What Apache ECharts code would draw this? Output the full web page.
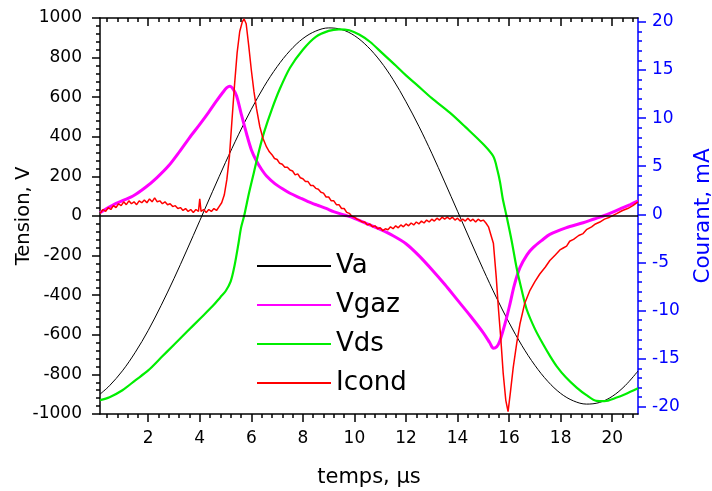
<!DOCTYPE html>
<html>
<head>
<meta charset="utf-8">
<script src="https://cdn.jsdelivr.net/npm/echarts@6/dist/echarts.min.js"></script>
<style>
html,body{margin:0;padding:0;background:#fff;}
#chart{width:712px;height:491px;}
</style>
</head>
<body>
<div id="chart"></div>
<script>
// ---- data ----
var xMajorTicks = [2,4,6,8,10,12,14,16,18,20];
var xMinorTicks = [0.4,0.8,1.2,1.6,2.4,2.8,3.2,3.6,4.4,4.8,5.2,5.6,6.4,6.8,7.2,7.6,8.4,8.8,9.2,9.6,10.4,10.8,11.2,11.6,12.4,12.8,13.2,13.6,14.4,14.8,15.2,15.6,16.4,16.8,17.2,17.6,18.4,18.8,19.2,19.6,20.4,20.8];
var rightMajorTicks = [-20,-15,-10,-5,0,5,10,15,20];
var rightMinorTicks = [-19,-18,-17,-16,-14,-13,-12,-11,-9,-8,-7,-6,-4,-3,-2,-1,1,2,3,4,6,7,8,9,11,12,13,14,16,17,18,19];

var vaTime = [0.13,0.5,1,1.5,2,2.5,3,3.5,4,4.5,5,5.5,6,6.5,7,7.5,8,8.5,9,9.5,10,10.5,11,11.5,12,12.5,13,13.5,14,14.5,15,15.5,16,16.5,17,17.5,18,18.5,19,19.5,20,20.5,21];
var vaValues = [-900,-857,-782,-688,-578,-452,-316,-172,-24,125,271,410,539,655,754,835,896,934,950,942,911,857,783,689,577,453,317,172,24,-125,-271,-410,-539,-655,-754,-835,-896,-934,-950,-942,-911,-857,-783];

var vgazTime = [0.13,0.7,1.41,1.9,2.33,2.8,3.23,3.6,4.0,4.35,4.65,4.9,5.05,5.17,5.3,5.43,5.6,5.82,6.0,6.2,6.4,6.59,6.9,7.24,7.5,7.88,8.2,8.53,8.9,9.19,9.6,9.95,10.5,11.0,11.5,12.0,12.5,13.0,13.5,14.0,14.5,15.0,15.25,15.39,15.52,15.64,15.85,16.03,16.2,16.42,16.7,16.93,17.3,17.58,18.2,18.87,19.3,19.65,20.0,20.42,20.7,21.0];
var vgazValues = [17,60,101,145,193,255,328,395,463,525,581,625,648,655,640,606,520,413,335,278,235,202,165,135,115,92,73,56,38,22,5,-9,-40,-68,-100,-140,-200,-270,-345,-425,-505,-590,-640,-668,-660,-631,-540,-446,-350,-261,-195,-160,-120,-93,-60,-34,-15,0,18,42,58,76];

var vdsTime = [0.13,0.5,1.0,1.5,2.0,2.5,3.0,3.5,4.0,4.5,4.8,5.0,5.2,5.35,5.5,5.6,5.72,5.9,6.1,6.3,6.5,6.8,7.1,7.5,8.0,8.5,9.0,9.4,9.8,10.2,10.6,11.1,11.6,12.0,12.4,13.0,13.7,14.3,15.0,15.39,15.55,15.65,15.75,15.9,16.1,16.29,16.5,16.68,17.0,17.32,17.6,17.84,18.2,18.62,19.0,19.39,19.7,20.17,20.5,21.0];
var vdsValues = [-930,-915,-880,-830,-780,-715,-650,-585,-520,-455,-410,-380,-330,-250,-140,-60,0,110,220,330,425,540,640,749,840,905,935,943,938,915,880,820,760,710,665,595,522,450,362,300,230,170,90,0,-126,-261,-380,-471,-570,-648,-710,-758,-815,-867,-905,-934,-935,-917,-900,-870];

var icondTime = [0.13,0.25,0.35,0.45,0.55,0.65,0.75,0.85,0.95,1.05,1.15,1.25,1.35,1.45,1.55,1.65,1.75,1.85,1.95,2.05,2.15,2.25,2.35,2.45,2.55,2.65,2.75,2.85,2.95,3.05,3.15,3.25,3.35,3.45,3.55,3.65,3.75,3.85,3.95,4.0,4.05,4.15,4.25,4.35,4.45,4.55,4.65,4.75,4.85,4.95,5.05,5.15,5.25,5.35,5.45,5.55,5.65,5.72,5.8,5.9,6.0,6.1,6.2,6.33,6.45,6.59,6.7,6.8,6.9,7.0,7.1,7.2,7.3,7.4,7.5,7.6,7.7,7.8,7.9,8.0,8.1,8.2,8.3,8.4,8.5,8.6,8.7,8.8,8.9,9.0,9.1,9.2,9.3,9.4,9.5,9.6,9.7,9.8,9.9,10.0,10.1,10.2,10.3,10.4,10.5,10.6,10.7,10.8,10.9,11.0,11.1,11.2,11.3,11.4,11.5,11.6,11.7,11.8,11.9,12.0,12.1,12.2,12.3,12.4,12.5,12.6,12.7,12.8,12.9,13.0,13.1,13.2,13.3,13.4,13.5,13.6,13.7,13.8,13.9,14.0,14.1,14.2,14.3,14.4,14.5,14.6,14.7,14.8,14.9,15.0,15.1,15.2,15.3,15.39,15.5,15.58,15.68,15.77,15.87,15.96,16.05,16.16,16.3,16.42,16.6,16.81,17.0,17.19,17.4,17.58,17.8,17.97,18.1,18.23,18.35,18.5,18.7,18.87,19.0,19.2,19.35,19.52,19.7,19.9,20.17,20.4,20.6,20.8,21.0];
var icondValues = [0.1,0.5,0.3,0.7,0.5,0.9,0.7,1.1,0.9,1.3,1.0,1.4,1.1,1.3,1.0,1.4,1.2,1.5,1.2,1.6,1.3,1.7,1.3,1.4,1.1,1.3,1.0,1.1,0.8,0.9,0.6,0.7,0.4,0.6,0.3,0.5,0.2,0.5,0.3,1.6,0.3,0.5,0.2,0.5,0.3,0.6,0.4,0.8,1.2,2.0,3.6,6.0,9.8,13.5,16.8,19.0,20.0,20.3,19.8,17.5,15.0,12.8,11.0,9.1,7.9,7.0,6.5,6.2,5.8,5.7,5.3,5.2,4.9,4.9,4.6,4.5,4.1,4.2,3.8,3.7,3.4,3.4,3.0,3.0,2.7,2.6,2.3,2.2,1.8,1.8,1.4,1.4,1.0,1.0,0.6,0.6,0.2,0.1,-0.2,-0.3,-0.5,-0.6,-0.8,-0.8,-1.1,-1.0,-1.3,-1.2,-1.5,-1.4,-1.7,-1.5,-1.6,-1.3,-1.5,-1.2,-1.4,-1.1,-1.3,-1.0,-1.2,-0.9,-1.1,-0.8,-1.0,-0.7,-0.9,-0.6,-0.8,-0.5,-0.7,-0.4,-0.6,-0.3,-0.5,-0.3,-0.5,-0.3,-0.6,-0.4,-0.7,-0.5,-0.7,-0.4,-0.7,-0.5,-0.8,-0.5,-0.7,-0.6,-0.9,-1.3,-2.2,-3.0,-6.5,-9.6,-13.0,-16.5,-19.3,-20.5,-18.5,-15.9,-13.3,-11.4,-9.3,-7.9,-7.0,-6.2,-5.5,-4.8,-4.2,-3.7,-3.5,-3.3,-2.8,-2.6,-2.2,-2.0,-1.6,-1.3,-1.0,-0.8,-0.5,-0.3,0.07,0.4,0.6,0.9,1.3];

function pairs(t, v){ var out=[]; for(var i=0;i<t.length;i++){ out.push([t[i], v[i]]); } return out; }

var FONT = 'DejaVu Sans';
var X_MIN = 0.13, X_MAX = 21.0;
var YR_MIN = -20.75, YR_MAX = 20.4;
var BLUE = '#0000FF';

var chart = echarts.init(document.getElementById('chart'));
var option = {
  backgroundColor: '#fff',
  animation: false,
  grid: {left: 100, right: 74, top: 18, bottom: 77, containLabel: false, outerBoundsMode: 'none'},
  legend: {
    data: ['Va','Vgaz','Vds','Icond'],
    orient: 'vertical',
    left: 251, top: 248,
    itemWidth: 74, itemHeight: 14, itemGap: 13,
    itemStyle: {opacity: 0, color: 'rgba(0,0,0,0)', borderWidth: 0},
    textStyle: {fontFamily: FONT, fontSize: 26, color: '#000'}
  },
  xAxis: [
    {type:'value', position:'bottom', min:X_MIN, max:X_MAX,
     axisLine:{show:true,onZero:false,lineStyle:{color:'#000',width:1.5}},
     axisTick:{show:true,customValues:xMajorTicks,length:8,lineStyle:{color:'#000',width:1.5}},
     axisLabel:{show:true,customValues:xMajorTicks,margin:16,fontFamily:FONT,fontSize:17,color:'#000',formatter:function(v){return String(v);}},
     splitLine:{show:false},
     name:'temps, µs', nameLocation:'middle', nameGap:53, nameMoveOverlap:false,
     nameTextStyle:{fontFamily:FONT,fontSize:21,color:'#000'}},
    {type:'value', position:'bottom', min:X_MIN, max:X_MAX,
     axisLine:{show:false,onZero:false},
     axisTick:{show:true,customValues:xMinorTicks,length:4,lineStyle:{color:'#000',width:1.5}},
     axisLabel:{show:false}, splitLine:{show:false}},
    {type:'value', position:'top', min:X_MIN, max:X_MAX,
     axisLine:{show:true,onZero:false,lineStyle:{color:'#000',width:1.5}},
     axisTick:{show:true,inside:true,customValues:xMajorTicks,length:8,lineStyle:{color:'#000',width:1.5}},
     axisLabel:{show:false}, splitLine:{show:false}},
    {type:'value', position:'top', min:X_MIN, max:X_MAX,
     axisLine:{show:false,onZero:false},
     axisTick:{show:true,inside:true,customValues:xMinorTicks,length:4,lineStyle:{color:'#000',width:1.5}},
     axisLabel:{show:false}, splitLine:{show:false}}
  ],
  yAxis: [
    {type:'value', position:'left', min:-1000, max:1000, interval:200,
     axisLine:{show:true,onZero:false,lineStyle:{color:'#000',width:1.5}},
     axisTick:{show:true,length:8,lineStyle:{color:'#000',width:1.5}},
     minorTick:{show:true,splitNumber:5,length:4,lineStyle:{color:'#000',width:1.5}},
     axisLabel:{margin:18,fontFamily:FONT,fontSize:17,color:'#000',formatter:function(v){return String(v);}},
     splitLine:{show:false}, minorSplitLine:{show:false},
     name:'Tension, V', nameLocation:'middle', nameGap:66, nameRotate:90, nameMoveOverlap:false,
     nameTextStyle:{fontFamily:FONT,fontSize:19.5,color:'#000'}},
    {type:'value', position:'right', min:YR_MIN, max:YR_MAX,
     axisLine:{show:true,onZero:false,lineStyle:{color:BLUE,width:1.5}},
     axisTick:{show:true,customValues:rightMajorTicks,length:8,lineStyle:{color:BLUE,width:1.5}},
     axisLabel:{customValues:rightMajorTicks,margin:14,fontFamily:FONT,fontSize:17,color:BLUE,formatter:function(v){return String(v);}},
     splitLine:{show:false},
     name:'Courant, mA', nameLocation:'middle', nameGap:54, nameRotate:90, nameMoveOverlap:false,
     nameTextStyle:{fontFamily:FONT,fontSize:21.5,color:BLUE}},
    {type:'value', position:'right', min:YR_MIN, max:YR_MAX,
     axisLine:{show:false,onZero:false},
     axisTick:{show:true,customValues:rightMinorTicks,length:4,lineStyle:{color:BLUE,width:1.5}},
     axisLabel:{show:false}, splitLine:{show:false}}
  ],
  series: [
    {name:'Va', type:'line', xAxisIndex:0, yAxisIndex:0, data:pairs(vaTime, vaValues),
     symbol:'none', smooth:0.35, lineStyle:{color:'#000',width:1}, itemStyle:{color:'#000'},
     markLine:{silent:true, symbol:'none', label:{show:false}, animation:false,
       lineStyle:{color:'#000',width:1.5,type:'solid'}, data:[{yAxis:0}]}},
    {name:'Vgaz', type:'line', xAxisIndex:0, yAxisIndex:0, data:pairs(vgazTime, vgazValues),
     symbol:'none', smooth:0.3, lineStyle:{color:'#FF00FF',width:3}, itemStyle:{color:'#FF00FF'}},
    {name:'Vds', type:'line', xAxisIndex:0, yAxisIndex:0, data:pairs(vdsTime, vdsValues),
     symbol:'none', smooth:0.3, lineStyle:{color:'#00EE00',width:2.2}, itemStyle:{color:'#00EE00'}},
    {name:'Icond', type:'line', xAxisIndex:0, yAxisIndex:1, data:pairs(icondTime, icondValues),
     symbol:'none', smooth:false, lineStyle:{color:'#FF0000',width:1.5}, itemStyle:{color:'#FF0000'}}
  ]
};
chart.setOption(option);
</script>
</body>
</html>
